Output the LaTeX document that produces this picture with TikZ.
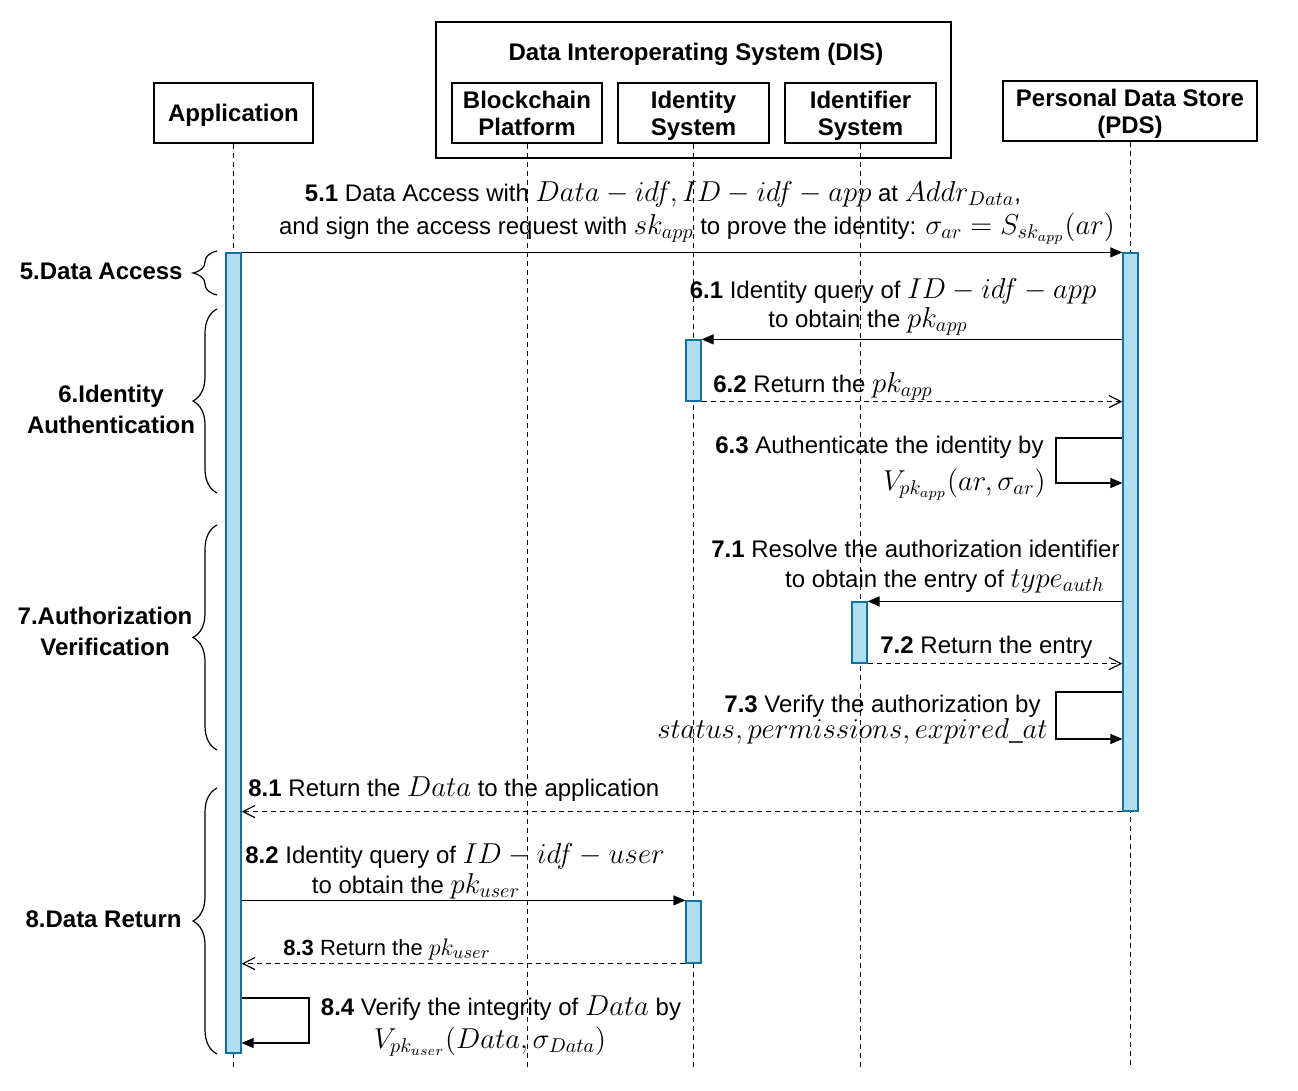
\documentclass[tikz,border=0pt,12pt]{standalone}
\usepackage{fontspec}
\setmainfont{Liberation Sans}
\usetikzlibrary{arrows.meta,decorations.pathreplacing,fit}
\DeclareMathSizes{12}{14}{10}{7}
\DeclareMathSizes{11}{13}{9}{7}
\definecolor{barfill}{HTML}{B1DDF0}
\definecolor{barline}{HTML}{10739E}
\tikzset{
  actor/.style={draw,line width=0.8pt,font=\bfseries,align=center,inner sep=0pt,minimum height=30pt,text depth=0pt},
  actbar/.style={draw=barline,fill=barfill,line width=0.6pt,inner sep=0pt},
  lifeline/.style={line width=0.5pt,dash pattern=on 2.5pt off 2pt},
  call/.style={line width=0.6pt,-{Triangle[length=6pt,width=5pt]}},
  reply/.style={line width=0.6pt,dash pattern=on 2.5pt off 2pt,-{Straight Barb[length=6pt,width=6pt]}},
  grpbrace/.style={decorate,decoration={brace,amplitude=12pt},line width=0.6pt},
  grplabel/.style={font=\bfseries,align=center,inner sep=0pt},
  msg/.style={inner sep=0pt}
}

\begin{document}
\begin{tikzpicture}[x=0.5pt,y=-0.5pt]
  \useasboundingbox (0,0) rectangle (1298,1091);
  % participants
  \node[draw,line width=0.8pt,minimum width=257.5pt,minimum height=68pt,inner sep=0pt] (dis) at (693.5,90) {};
  \node[font=\bfseries] (distitle) at (696,54) {Data Interoperating System (DIS)};
  \node[actor,minimum width=79.5pt] (app) at (233.5,113) {Application};
  \node[actor,minimum width=75pt] (chain) at (527,113) {Blockchain\\[-1pt]Platform};
  \node[actor,minimum width=75.5pt] (ids) at (693.5,113) {Identity\\[-1pt]System};
  \node[actor,minimum width=75.5pt] (idf) at (860.5,113) {Identifier\\[-1pt]System};
  \node[actor,minimum width=127pt] (pds) at (1130,111) {Personal Data Store\\[-1pt](PDS)};
  \coordinate (bot) at (0,1068);
  \foreach \p in {app,chain,ids,idf,pds}
    \draw[lifeline] (\p) -- (\p |- bot);
  % activation bars
  \node[actbar,fit={(226,253) (241,1053)}] (appbar) {};
  \node[actbar,fit={(1123,253) (1138,811)}] (pdsbar) {};
  \node[actbar,fit={(686,340) (701,401)}] (idbar1) {};
  \node[actbar,fit={(852,602) (867,663)}] (ifbar) {};
  \node[actbar,fit={(686,901) (701,963)}] (idbar2) {};
  % messages
  \draw[call] (appbar.north east) -- (pdsbar.north west);
  \draw[call] (pdsbar.west |- idbar1.north) -- (idbar1.north east);
  \draw[reply] (idbar1.south east) -- (pdsbar.west |- idbar1.south);
  \coordinate (k63) at (1056,438);
  \draw[call] (pdsbar.west |- k63) -- (k63) |- (pdsbar.west |- 0,483);
  \draw[call] (pdsbar.west |- ifbar.north) -- (ifbar.north east);
  \draw[reply] (ifbar.south east) -- (pdsbar.west |- ifbar.south);
  \coordinate (k73) at (1056,692);
  \draw[call] (pdsbar.west |- k73) -- (k73) |- (pdsbar.west |- 0,739);
  \draw[reply] (pdsbar.south west) -- (appbar.east |- pdsbar.south);
  \draw[call] (appbar.east |- idbar2.north) -- (idbar2.north west);
  \draw[reply] (idbar2.south west) -- (appbar.east |- idbar2.south);
  \coordinate (k84) at (309,998);
  \draw[call] (appbar.east |- k84) -- (k84) |- (appbar.east |- 0,1043);
  % message labels
  \node[msg,anchor=mid] (t51a) at (663,195) {\textbf{5.1} Data Access with $Data-idf, ID-idf-app$ at $Addr_{Data}$,};
  \node[msg,anchor=mid] (t51b) at (697,228) {and sign the access request with $sk_{app}$ to prove the identity: $\sigma_{ar}=S_{sk_{app}}(ar)$};
  \node[msg,anchor=mid] (t61a) at (893,292) {\textbf{6.1} Identity query of $ID-idf-app$};
  \node[msg,anchor=mid] (t61b) at (868,321) {to obtain the $pk_{app}$};
  \node[msg,anchor=mid west] (t62) at (713,386) {\textbf{6.2} Return the $pk_{app}$};
  \node[msg,anchor=mid east] (t63a) at (1044,447) {\textbf{6.3} Authenticate the identity by};
  \node[msg,anchor=mid east] (t63b) at (1046,484) {$V_{pk_{app}}(ar,\sigma_{ar})$};
  \node[msg,anchor=mid east] (t71a) at (1120,551) {\textbf{7.1} Resolve the authorization identifier};
  \node[msg,anchor=mid east] (t71b) at (1105,581) {to obtain the entry of $type_{auth}$};
  \node[msg,anchor=mid west] (t72) at (880,647) {\textbf{7.2} Return the entry};
  \node[msg,anchor=mid east] (t73a) at (1041,706) {\textbf{7.3} Verify the authorization by};
  \node[msg,anchor=mid east] (t73b) at (1048,732) {$status, permissions, expired\_at$};
  \node[msg,anchor=mid west] (t81) at (248,790) {\textbf{8.1} Return the $Data$ to the application};
  \node[msg,anchor=mid] (t82a) at (455,857) {\textbf{8.2} Identity query of $ID-idf-user$};
  \node[msg,anchor=mid] (t82b) at (416,887) {to obtain the $pk_{user}$};
  \node[msg,anchor=mid west,font=\fontsize{11}{13}\selectfont] (t83) at (283,949) {\textbf{8.3} Return the $pk_{user}$};
  \node[msg,anchor=mid] (t84a) at (501,1009) {\textbf{8.4} Verify the integrity of $Data$ by};
  \node[msg,anchor=mid] (t84b) at (490,1042) {$V_{pk_{user}}(Data,\sigma_{Data})$};
  % phases
  \draw[grpbrace] (217,295) -- (217,251);
  \draw[grpbrace] (217,493) -- (217,309);
  \draw[grpbrace] (217,750) -- (217,525);
  \draw[grpbrace] (217,1054) -- (217,788);
  \node[grplabel,anchor=mid east] (g5) at (183,273) {5.Data Access};
  \node[grplabel] (g6) at (111,409) {6.Identity\\[1pt]Authentication};
  \node[grplabel] (g7) at (105,631) {7.Authorization\\[1pt]Verification};
  \node[grplabel,anchor=mid east] (g8) at (182,921) {8.Data Return};
\end{tikzpicture}
\end{document}
